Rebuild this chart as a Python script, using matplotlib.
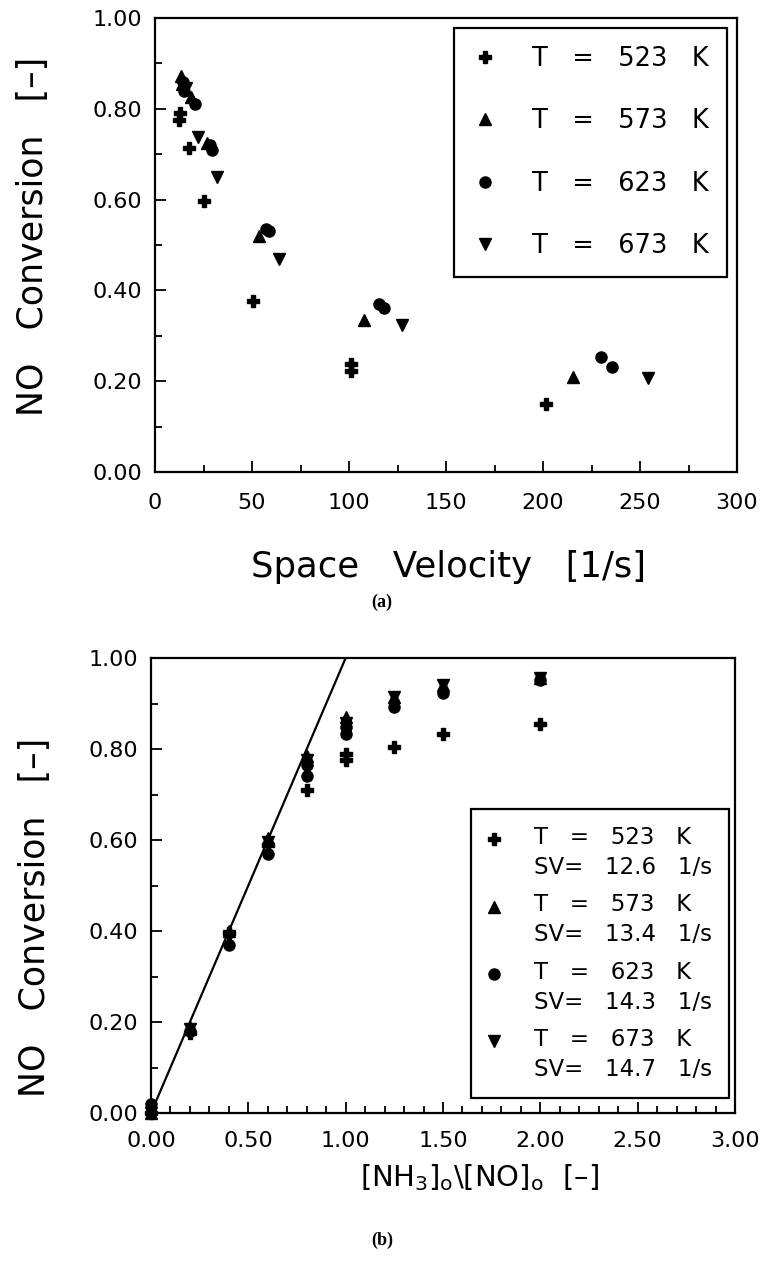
import numpy as np
import matplotlib.pyplot as plt
from matplotlib.lines import Line2D
from matplotlib.legend_handler import HandlerLine2D
from matplotlib.ticker import MultipleLocator, FormatStrFormatter

# (a) NO conversion vs space velocity
sv_523 = [12.6, 13.0, 17.7, 25.2, 50.4, 100.8, 100.8, 201.6]
conv_523 = [0.776, 0.79, 0.713, 0.598, 0.377, 0.238, 0.222, 0.150]
sv_573 = [13.4, 13.8, 18.8, 26.8, 53.6, 107.6, 215.3]
conv_573 = [0.872, 0.855, 0.825, 0.725, 0.52, 0.335, 0.210]
sv_623 = [14.3, 14.8, 20.5, 28.6, 29.6, 57.2, 58.6, 115.3, 118.1, 230.0, 235.5]
conv_623 = [0.86, 0.84, 0.81, 0.72, 0.71, 0.535, 0.53, 0.371, 0.362, 0.253, 0.232]
sv_673 = [15.9, 22.2, 32.0, 63.8, 127.2, 254.3]
conv_673 = [0.845, 0.737, 0.65, 0.47, 0.324, 0.207]

# (b) NO conversion vs NH3/NO ratio
ratio_523 = [0.0, 0.2, 0.4, 0.6, 0.8, 1.0, 1.0, 1.25, 1.5, 2.0]
nh3_523 = [0.0, 0.175, 0.395, 0.59, 0.71, 0.79, 0.776, 0.805, 0.834, 0.855]
ratio_573 = [0.0, 0.2, 0.4, 0.6, 0.8, 1.0, 1.25, 1.5, 2.0]
nh3_573 = [0.0, 0.19, 0.40, 0.605, 0.785, 0.87, 0.915, 0.94, 0.955]
ratio_623 = [0.0, 0.2, 0.4, 0.6, 0.8, 0.8, 1.0, 1.0, 1.25, 1.5, 2.0]
nh3_623 = [0.02, 0.18, 0.37, 0.57, 0.765, 0.74, 0.849, 0.834, 0.893, 0.924, 0.952]
ratio_673 = [0.0, 0.2, 0.4, 0.6, 0.8, 1.0, 1.25, 1.5, 2.0]
nh3_673 = [0.0, 0.185, 0.39, 0.595, 0.775, 0.858, 0.915, 0.94, 0.955]
ratio_line = [0.0, 1.0]
conv_line = [0.0, 1.0]

temps = ["523", "573", "623", "673"]
sv_min = ["12.6", "13.4", "14.3", "14.7"]
markers = ["P", "^", "o", "v"]


class FirstLineHandler(HandlerLine2D):
    # put the marker next to the first line of a two-line label
    def create_artists(self, legend, orig_handle, xdescent, ydescent, width, height, fontsize, trans):
        arts = super().create_artists(legend, orig_handle, xdescent, ydescent, width, height, fontsize, trans)
        for a in arts:
            a.set_ydata(np.asarray(a.get_ydata()) + 0.62 * fontsize)
        return arts


plt.rcParams["font.family"] = ["DejaVu Sans"]
plt.rcParams["axes.linewidth"] = 1.6

fig = plt.figure(figsize=(7.64, 12.77), dpi=100)
ax1 = fig.add_axes([155/764, 1-472/1277, 582/764, 454/1277])
ax2 = fig.add_axes([151/764, 1-1113/1277, 584/764, 455/1277])

ms = 8
series_a = [(sv_523, conv_523), (sv_573, conv_573), (sv_623, conv_623), (sv_673, conv_673)]
for (x, y), m, t in zip(series_a, markers, temps):
    ax1.plot(x, y, linestyle="none", marker=m, color="black", ms=ms, label=f"T   =   {t}   K")

ax1.set_xlim(0, 300); ax1.set_ylim(0, 1)
ax1.xaxis.set_major_locator(MultipleLocator(50)); ax1.xaxis.set_minor_locator(MultipleLocator(25))
ax1.yaxis.set_major_locator(MultipleLocator(0.2)); ax1.yaxis.set_minor_locator(MultipleLocator(0.1))
ax1.yaxis.set_major_formatter(FormatStrFormatter("%.2f"))
ax1.set_xlabel("Space   Velocity   [1/s]", fontsize=25.5)
ax1.set_ylabel("NO   Conversion   [–]", fontsize=25)
ax1.xaxis.set_label_coords(0.505, -0.172)
ax1.yaxis.set_label_coords(-0.18, 0.518)
leg1 = ax1.legend(loc="upper right", bbox_to_anchor=(0.983, 0.978), borderaxespad=0, fontsize=18.5,
                  fancybox=False, edgecolor="black", labelspacing=1.42, handletextpad=1.35,
                  borderpad=0.7, handlelength=1.0, framealpha=1)
leg1.get_frame().set_linewidth(1.6)

series_b = [(ratio_523, nh3_523), (ratio_573, nh3_573), (ratio_623, nh3_623), (ratio_673, nh3_673)]
handles, labels = [], []
for (x, y), m, t, s in zip(series_b, markers, temps, sv_min):
    h, = ax2.plot(x, y, linestyle="none", marker=m, color="black", ms=ms, clip_on=False)
    handles.append(h)
    labels.append(f"T   =   {t}   K\nSV=   {s}   1/s")
ax2.plot(ratio_line, conv_line, color="black", lw=1.6)

leg2 = ax2.legend(handles, labels, loc="lower right", bbox_to_anchor=(0.99, 0.033), borderaxespad=0,
                  fontsize=16.5, fancybox=False, edgecolor="black", labelspacing=0.62, handletextpad=1.5,
                  borderpad=0.75, handlelength=0.5, framealpha=1,
                  handler_map={Line2D: FirstLineHandler()})
leg2.get_frame().set_linewidth(1.6)
for txt in leg2.get_texts():
    txt.set_linespacing(1.39)

ax2.set_xlim(0, 3); ax2.set_ylim(0, 1)
ax2.xaxis.set_major_locator(MultipleLocator(0.5)); ax2.xaxis.set_minor_locator(MultipleLocator(0.1))
ax2.yaxis.set_major_locator(MultipleLocator(0.2)); ax2.yaxis.set_minor_locator(MultipleLocator(0.1))
ax2.xaxis.set_major_formatter(FormatStrFormatter("%.2f"))
ax2.yaxis.set_major_formatter(FormatStrFormatter("%.2f"))
ax2.set_xlabel(r"[NH$_3$]$_\mathrm{o}$\[NO]$_\mathrm{o}$  [–]", fontsize=21)
ax2.set_ylabel("NO   Conversion   [–]", fontsize=25)
ax2.xaxis.set_label_coords(0.563, -0.108)
ax2.yaxis.set_label_coords(-0.17, 0.43)

for ax in (ax1, ax2):
    ax.tick_params(which="both", direction="in", top=False, right=False, width=1.3, labelsize=16)
    ax.tick_params(which="major", length=8)
    ax.tick_params(which="minor", length=5)
    ax.tick_params(axis="x", pad=15)
    ax.tick_params(axis="y", pad=9)
ax2.tick_params(axis="x", pad=13)

fig.text(0.5, 1-602/1277, "(a)", family="Liberation Serif", weight="bold", fontsize=13, ha="center", va="center")
fig.text(0.5, 1-1240/1277, "(b)", family="Liberation Serif", weight="bold", fontsize=13, ha="center", va="center")

fig.savefig("out.png", dpi=100)
